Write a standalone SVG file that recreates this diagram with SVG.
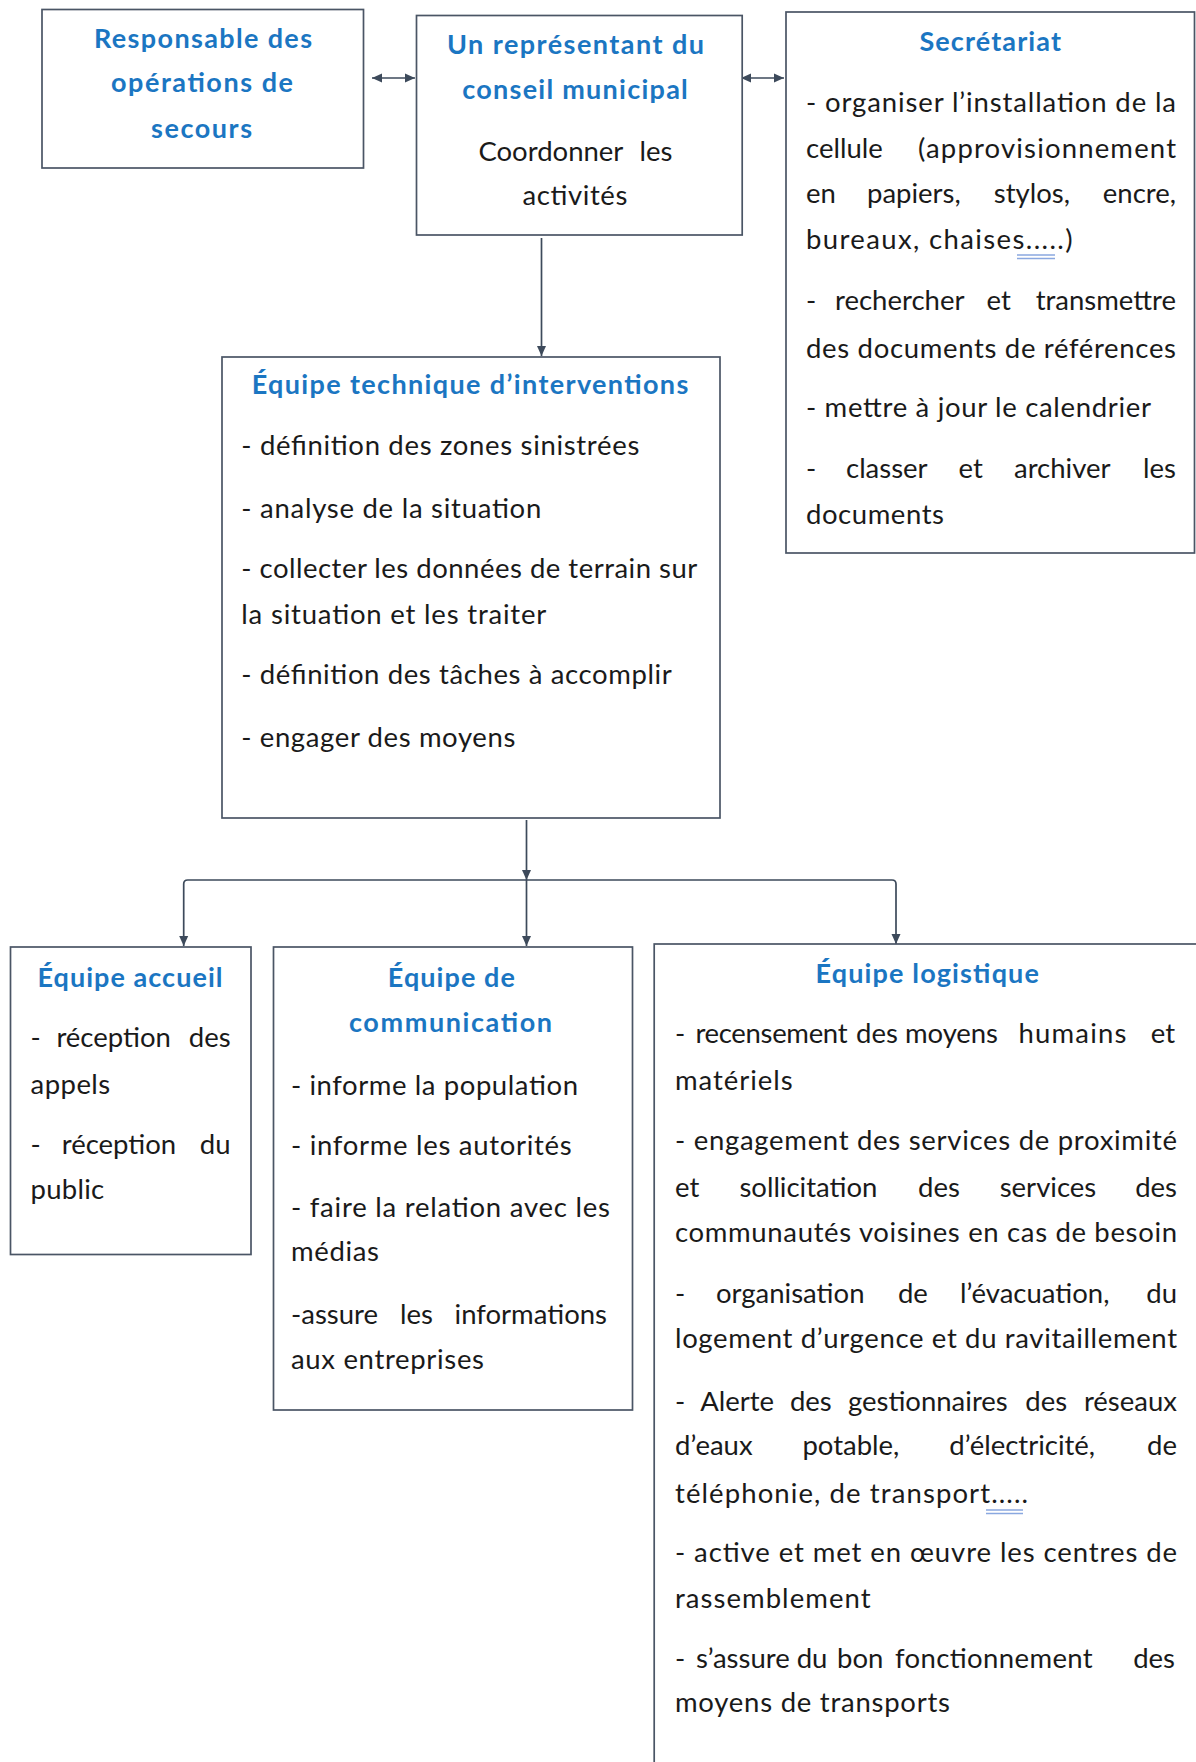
<svg xmlns="http://www.w3.org/2000/svg" width="1196" height="1762" viewBox="0 0 1196 1762">
<style>
  .box { fill: #ffffff; stroke: #4a5565; stroke-width: 1.7; }
  .t { font-family: Lato, "Noto Sans", "Liberation Sans", sans-serif; font-weight: bold; font-size: 27px; fill: #1b76c2; }
  .b { font-family: Lato, "Noto Sans", "Liberation Sans", sans-serif; font-size: 27.5px; fill: #1a1a1a; }
  .e { text-anchor: end; }
  .con { fill: none; stroke: #3d4a5b; stroke-width: 1.7; }
  .sq { stroke: #8aa8e0; stroke-width: 1.3; fill: none; }
</style>
<defs>
  <marker id="ah" viewBox="0 0 10 10" refX="10" refY="5" markerWidth="11" markerHeight="10" markerUnits="userSpaceOnUse" orient="auto-start-reverse">
    <path d="M0,0.5 L10,5 L0,9.5 z" fill="#3d4a5b"/>
  </marker>
</defs>
<rect width="1196" height="1762" fill="#ffffff"/>

<g id="connectors">
  <line class="con" x1="372" y1="78" x2="415" y2="78" marker-start="url(#ah)" marker-end="url(#ah)"/>
  <line class="con" x1="741" y1="78" x2="784" y2="78" marker-start="url(#ah)" marker-end="url(#ah)"/>
  <line class="con" x1="541.5" y1="238" x2="541.5" y2="356" marker-end="url(#ah)"/>
  <line class="con" x1="526.5" y1="820" x2="526.5" y2="880" marker-end="url(#ah)"/>
  <path class="con" d="M183.7,946 L183.7,884 Q183.7,880 187.7,880 L892,880 Q896,880 896,884 L896,944" marker-start="url(#ah)" marker-end="url(#ah)"/>
  <line class="con" x1="526.5" y1="880" x2="526.5" y2="946" marker-end="url(#ah)"/>
</g>

<g id="node-responsable">
  <rect class="box" x="42" y="9.5" width="321.5" height="158.5"/>
  <text class="t" x="94" y="48" textLength="218">Responsable des</text>
  <text class="t" x="111" y="92" textLength="182">opérations de</text>
  <text class="t" x="151" y="138" textLength="101">secours</text>
</g>

<g id="node-representant">
  <rect class="box" x="416.5" y="15.5" width="325.7" height="219.5"/>
  <text class="t" x="447" y="54" textLength="257">Un représentant du</text>
  <text class="t" x="462.3" y="99" textLength="225.5">conseil municipal</text>
  <text class="b" x="478.4" y="161">Coordonner</text>
  <text class="b e" x="672.5" y="161">les</text>
  <text class="b" x="522.4" y="205" textLength="105">activités</text>
</g>

<g id="node-secretariat">
  <rect class="box" x="786" y="12" width="408.5" height="541"/>
  <text class="t" x="919.4" y="51" textLength="141.6">Secrétariat</text>
  <text class="b" x="806" y="112" textLength="370">- organiser l’installation de la</text>
  <text class="b" x="806" y="158">cellule</text>
  <text class="b" x="918" y="158" textLength="258">(approvisionnement</text>
  <text class="b" x="806" y="203">en</text>
  <text class="b" x="867" y="203">papiers,</text>
  <text class="b" x="993.8" y="203">stylos,</text>
  <text class="b e" x="1176" y="203">encre,</text>
  <text class="b" x="806" y="249" textLength="266.5">bureaux, chaises.....)</text>
  <text class="b" x="806" y="310">-</text>
  <text class="b" x="835" y="310">rechercher</text>
  <text class="b" x="986.5" y="310">et</text>
  <text class="b e" x="1176" y="310">transmettre</text>
  <text class="b" x="806" y="358" textLength="370">des documents de références</text>
  <text class="b" x="806" y="417" textLength="345">- mettre à jour le calendrier</text>
  <text class="b" x="806" y="478">-</text>
  <text class="b" x="846" y="478">classer</text>
  <text class="b" x="958.6" y="478">et</text>
  <text class="b" x="1014" y="478">archiver</text>
  <text class="b e" x="1176" y="478">les</text>
  <text class="b" x="806" y="524" textLength="138">documents</text>
  <path class="sq" d="M1017,255 H1055 M1017,258.5 H1055"/>
</g>

<g id="node-equipe-technique">
  <rect class="box" x="222" y="357" width="498" height="461"/>
  <text class="t" x="251.7" y="394" textLength="436.6">Équipe technique d’interventions</text>
  <text class="b" x="241.3" y="455" textLength="398">- définition  des zones sinistrées</text>
  <text class="b" x="241.3" y="518" textLength="300">- analyse de la situation</text>
  <text class="b" x="241.3" y="578" textLength="456">- collecter les données de terrain sur</text>
  <text class="b" x="241.3" y="624" textLength="305">la situation et les traiter</text>
  <text class="b" x="241.3" y="684" textLength="430.5">- définition des tâches à accomplir</text>
  <text class="b" x="241.3" y="747" textLength="274">- engager des moyens</text>
</g>

<g id="node-accueil">
  <rect class="box" x="10.5" y="947" width="240.5" height="307.5"/>
  <text class="t" x="37.5" y="987" textLength="185">Équipe accueil</text>
  <text class="b" x="30.6" y="1047">-</text>
  <text class="b" x="56.4" y="1047">réception</text>
  <text class="b e" x="230.6" y="1047">des</text>
  <text class="b" x="30.6" y="1094" textLength="79.6">appels</text>
  <text class="b" x="30.6" y="1154">-</text>
  <text class="b" x="61.7" y="1154">réception</text>
  <text class="b e" x="230.6" y="1154">du</text>
  <text class="b" x="30.6" y="1199" textLength="73.5">public</text>
</g>

<g id="node-communication">
  <rect class="box" x="273.5" y="947" width="359" height="463"/>
  <text class="t" x="387.8" y="987" textLength="127">Équipe de</text>
  <text class="t" x="349" y="1032" textLength="203">communication</text>
  <text class="b" x="291" y="1095" textLength="287">- informe la population</text>
  <text class="b" x="291" y="1155" textLength="280.7">- informe les autorités</text>
  <text class="b" x="291" y="1217" textLength="319">- faire la relation avec les</text>
  <text class="b" x="291" y="1261" textLength="88">médias</text>
  <text class="b" x="291" y="1324">-assure</text>
  <text class="b" x="400" y="1324">les</text>
  <text class="b e" x="607" y="1324">informations</text>
  <text class="b" x="291" y="1369" textLength="193">aux entreprises</text>
</g>

<g id="node-logistique">
  <rect class="box" x="654.2" y="944" width="560" height="840"/>
  <text class="t" x="815.5" y="983" textLength="223.4">Équipe logistique</text>
  <text class="b" x="675" y="1043">-</text>
  <text class="b" x="695.5" y="1043" textLength="152">recensement</text>
  <text class="b" x="856" y="1043">des</text>
  <text class="b" x="905" y="1043" textLength="93">moyens</text>
  <text class="b" x="1018.4" y="1043" textLength="108">humains</text>
  <text class="b e" x="1175" y="1043">et</text>
  <text class="b" x="675" y="1090" textLength="117.7">matériels</text>
  <text class="b" x="675" y="1150" textLength="502">- engagement des services de proximité</text>
  <text class="b" x="675" y="1197">et</text>
  <text class="b" x="739.4" y="1197">sollicitation</text>
  <text class="b" x="918" y="1197">des</text>
  <text class="b" x="999.7" y="1197">services</text>
  <text class="b e" x="1177" y="1197">des</text>
  <text class="b" x="675" y="1242" textLength="502">communautés voisines en cas de besoin</text>
  <text class="b" x="675" y="1303">-</text>
  <text class="b" x="716" y="1303">organisation</text>
  <text class="b" x="897.9" y="1303">de</text>
  <text class="b" x="960.1" y="1303">l’évacuation,</text>
  <text class="b e" x="1177" y="1303">du</text>
  <text class="b" x="675" y="1348" textLength="502">logement d’urgence et du ravitaillement</text>
  <text class="b" x="675" y="1411">-</text>
  <text class="b" x="700.2" y="1411">Alerte</text>
  <text class="b" x="789.9" y="1411">des</text>
  <text class="b" x="847.9" y="1411">gestionnaires</text>
  <text class="b" x="1025.3" y="1411">des</text>
  <text class="b e" x="1177" y="1411">réseaux</text>
  <text class="b" x="675" y="1455">d’eaux</text>
  <text class="b" x="802.4" y="1455">potable,</text>
  <text class="b" x="949.3" y="1455">d’électricité,</text>
  <text class="b e" x="1177" y="1455">de</text>
  <text class="b" x="675" y="1503" textLength="353">téléphonie, de transport.....</text>
  <path class="sq" d="M986,1510 H1023 M986,1513.5 H1023"/>
  <text class="b" x="675" y="1562" textLength="502">- active et met en œuvre les centres de</text>
  <text class="b" x="675" y="1608" textLength="195.5">rassemblement</text>
  <text class="b" x="675" y="1668">-</text>
  <text class="b" x="696" y="1668">s’assure du</text>
  <text class="b" x="837" y="1668">bon</text>
  <text class="b" x="895" y="1668" textLength="197.7">fonctionnement</text>
  <text class="b e" x="1175" y="1668">des</text>
  <text class="b" x="675" y="1712" textLength="275">moyens de transports</text>
</g>
</svg>
